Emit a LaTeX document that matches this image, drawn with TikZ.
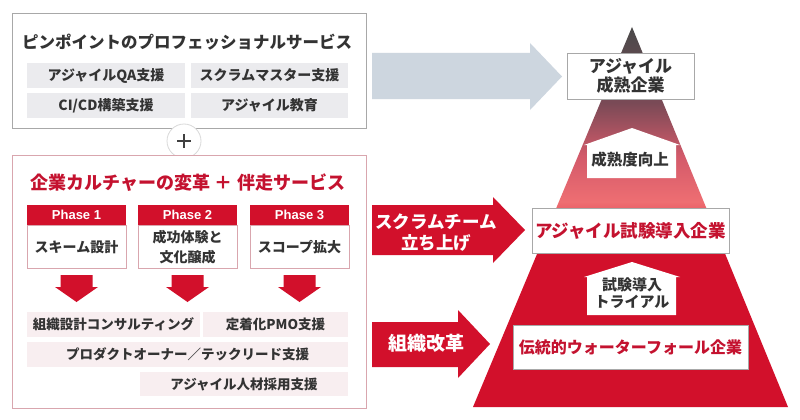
\documentclass[tikz,border=0pt]{standalone}
\usepackage{fontspec}
\setmainfont{Noto Sans CJK JP}
\newfontfamily\latinfont{Liberation Sans}
\definecolor{myred}{HTML}{D2102B}
\definecolor{titlered}{HTML}{C4122F}
\definecolor{txt}{HTML}{333333}
\definecolor{cellgray}{HTML}{EBEBEE}
\definecolor{cellpink}{HTML}{F8EEF0}
\definecolor{arrowgray}{HTML}{CDD6DF}
\definecolor{boxgray}{HTML}{A8A8A8}
\definecolor{boxpink}{HTML}{D9A6AE}
\definecolor{pyrsalmon}{HTML}{EE6E72}
\definecolor{pyrrose}{HTML}{D35A6A}
\definecolor{pyrmauve}{HTML}{7A4A56}
\definecolor{pyrapex}{HTML}{4A4A4A}
\pgfdeclareverticalshading{pyr}{100bp}{color(0bp)=(myred); color(45bp)=(myred); color(52bp)=(pyrsalmon); color(58bp)=(pyrrose); color(65bp)=(pyrmauve); color(75bp)=(pyrapex); color(100bp)=(pyrapex)}
\tikzset{
  frame/.style={draw=#1, line width=0.8pt, fill=white, inner sep=0pt},
  cell/.style={fill=#1, inner sep=0pt, text=txt, font=\fontsize{14}{18}\selectfont\bfseries},
  phasehead/.style={fill=myred, inner sep=0pt, minimum width=99, minimum height=20, text=white, font=\latinfont\fontsize{13}{15}\selectfont\bfseries},
  phasebody/.style={draw=boxpink, line width=0.6pt, fill=white, inner sep=0pt, minimum width=99, minimum height=43, text=txt, align=center, font=\fontsize{14}{19.5}\selectfont\bfseries},
  lvlbox/.style={draw=boxgray, line width=0.6pt, fill=white, inner sep=0pt, align=center, font=\bfseries},
  lbl/.style={inner sep=0pt, align=center, font=\bfseries},
}
\begin{document}
\begin{tikzpicture}[x=1pt, y=-1pt]
\useasboundingbox (0,0) rectangle (800,420);
\fill[white] (0,0) rectangle (800,420);

% ---------- top box ----------
\node[frame=boxgray, minimum width=354, minimum height=115] (topbox) at (189,70.5) {};
\node[lbl, text=txt, font=\fontsize{16.5}{20}\selectfont\bfseries] (toptitle) at (187,42) {ピンポイントのプロフェッショナルサービス};
\node[cell=cellgray, minimum width=158, minimum height=25] (c1) at (106,75.5) {アジャイルQA支援};
\node[cell=cellgray, minimum width=157, minimum height=25] (c2) at (269.5,75.5) {スクラムマスター支援};
\node[cell=cellgray, minimum width=158, minimum height=25] (c3) at (106,105.5) {CI/CD構築支援};
\node[cell=cellgray, minimum width=157, minimum height=25] (c4) at (269.5,105.5) {アジャイル教育};

% ---------- plus ----------
\node[circle, draw=black!15, line width=0.8pt, fill=white, minimum size=34, inner sep=0] (plus) at (184,141) {};
\draw[line width=2.6pt, draw=black!75] ([xshift=-7pt]plus.center) -- ([xshift=7pt]plus.center);
\draw[line width=2.6pt, draw=black!75] ([yshift=-7pt]plus.center) -- ([yshift=7pt]plus.center);

% ---------- bottom box ----------
\node[frame=boxpink, minimum width=354, minimum height=253] (botbox) at (189,281.5) {};
\node[lbl, text=titlered, font=\fontsize{18}{22}\selectfont\bfseries] (bottitle) at (188,183) {企業カルチャーの変革 ＋ 伴走サービス};

\node[phasehead] (p1h) at (76.5,215) {Phase 1};
\node[phasehead] (p2h) at (187.5,215) {Phase 2};
\node[phasehead] (p3h) at (299.5,215) {Phase 3};
\node[phasebody, anchor=north] (p1b) at (p1h.south) {スキーム設計};
\node[phasebody, anchor=north] (p2b) at (p2h.south) {成功体験と\\文化醸成};
\node[phasebody, anchor=north] (p3b) at (p3h.south) {スコープ拡大};

\tikzset{downarr/.pic={\fill[myred] (-16,0) -- (16,0) -- (16,12) -- (21.5,12) -- (0,27) -- (-21.5,12) -- (-16,12) -- cycle;}}
\pic at (76.5,275) {downarr};
\pic at (187.5,275) {downarr};
\pic at (299.5,275) {downarr};

\node[cell=cellpink, minimum width=173, minimum height=25, font=\fontsize{13.5}{17}\selectfont\bfseries] (s1) at (113.5,324.5) {組織設計コンサルティング};
\node[cell=cellpink, minimum width=145, minimum height=25, font=\fontsize{13.5}{17}\selectfont\bfseries] (s2) at (275.5,324.5) {定着化PMO支援};
\node[cell=cellpink, minimum width=321, minimum height=25, font=\fontsize{13.5}{17}\selectfont\bfseries] (s3) at (187.5,354.5) {プロダクトオーナー／テックリード支援};
\node[cell=cellpink, minimum width=208, minimum height=24, font=\fontsize{13.5}{17}\selectfont\bfseries] (s4) at (244,384) {アジャイル人材採用支援};

% ---------- block arrows ----------
\fill[arrowgray] (372,53) -- (530,53) -- (530,43) -- (562,76.5) -- (530,110) -- (530,99) -- (372,99) -- cycle;
\fill[myred] (372,205) -- (493,205) -- (493,197) -- (525,230) -- (493,263) -- (493,255) -- (372,255) -- cycle;
\fill[myred] (372,322) -- (458,322) -- (458,310) -- (490,344) -- (458,378) -- (458,367) -- (372,367) -- cycle;
\node[lbl, text=white, font=\fontsize{17.5}{21}\selectfont\bfseries] (scrum) at (436,232.5) {スクラムチーム\\立ち上げ};
\node[lbl, text=white, font=\fontsize{19}{22}\selectfont\bfseries] (org) at (426,343) {組織改革};

% ---------- pyramid ----------
\shade[shading=pyr] (632,27) -- (788,407) -- (473,407) -- cycle;

\fill[white] (632,128) -- (680,145) -- (676,145) -- (676,178) -- (587,178) -- (587,145) -- (584,145) -- cycle;
\node[lbl, text=txt, font=\fontsize{15.5}{18}\selectfont\bfseries] (up1) at (630,160) {成熟度向上};
\fill[white] (632,262) -- (680,277) -- (676,277) -- (676,315) -- (587,315) -- (587,277) -- (584,277) -- cycle;
\node[lbl, text=txt, font=\fontsize{15}{17}\selectfont\bfseries] (up2) at (632,293) {試験導入\\トライアル};

\node[lvlbox, minimum width=127, minimum height=46, text=txt, font=\fontsize{17}{19}\selectfont\bfseries] (mature) at (630.5,76) {アジャイル\\成熟企業};
\node[lvlbox, minimum width=197, minimum height=45, text=titlered, font=\fontsize{17.5}{20}\selectfont\bfseries] (trial) at (630.5,230.5) {アジャイル試験導入企業};
\node[lvlbox, minimum width=235, minimum height=44, text=titlered, font=\fontsize{16}{19}\selectfont\bfseries] (trad) at (630.5,347) {伝統的ウォーターフォール企業};
\end{tikzpicture}
\end{document}
